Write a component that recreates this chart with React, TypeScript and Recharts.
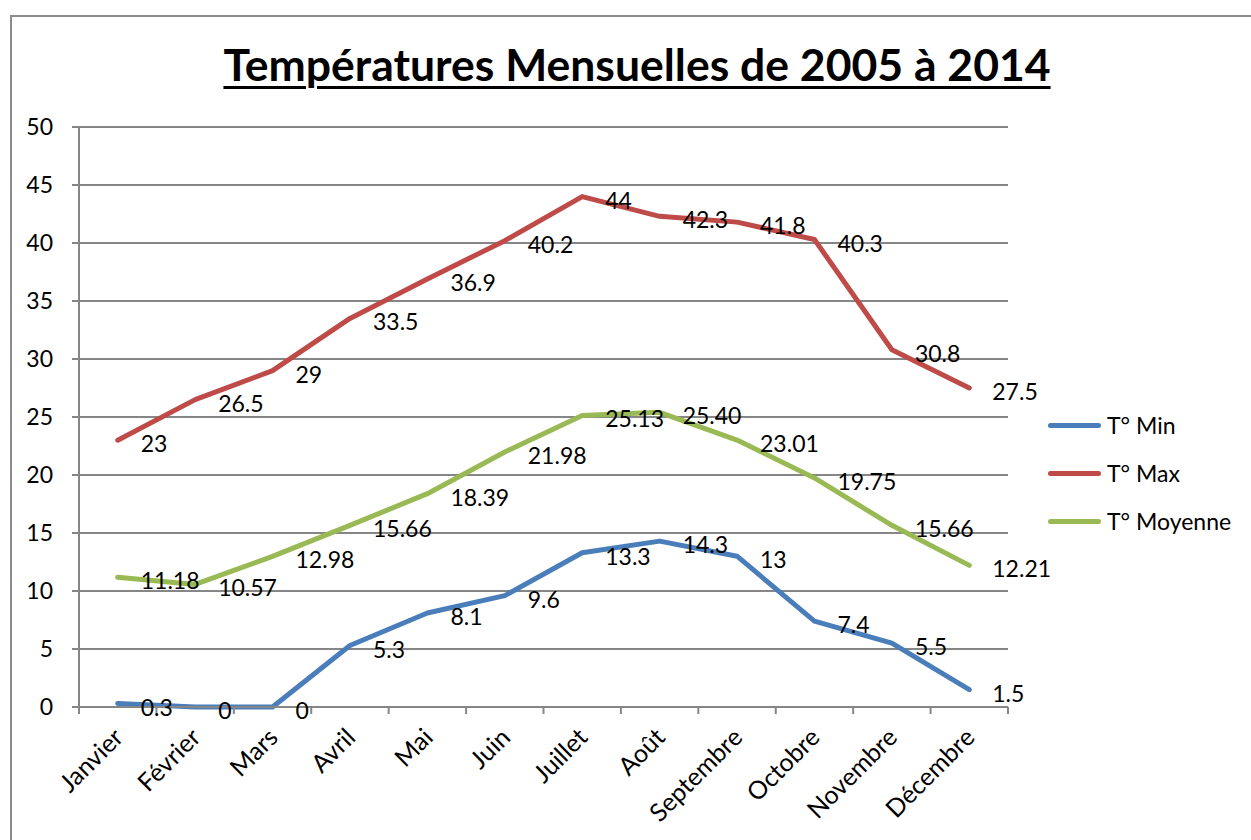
import React from 'react';
import {
  LineChart,
  Line,
  CartesianGrid,
  XAxis,
  YAxis,
  Legend,
  LabelList,
} from 'recharts';

const months = [
  'Janvier', 'Février', 'Mars', 'Avril', 'Mai', 'Juin',
  'Juillet', 'Août', 'Septembre', 'Octobre', 'Novembre', 'Décembre',
];
const tMin = [0.3, 0, 0, 5.3, 8.1, 9.6, 13.3, 14.3, 13, 7.4, 5.5, 1.5];
const tMax = [23, 26.5, 29, 33.5, 36.9, 40.2, 44, 42.3, 41.8, 40.3, 30.8, 27.5];
const tMoy = [11.18, 10.57, 12.98, 15.66, 18.39, 21.98, 25.13, 25.4, 23.01, 19.75, 15.66, 12.21];
const minLabels = ['0.3', '0', '0', '5.3', '8.1', '9.6', '13.3', '14.3', '13', '7.4', '5.5', '1.5'];
const maxLabels = ['23', '26.5', '29', '33.5', '36.9', '40.2', '44', '42.3', '41.8', '40.3', '30.8', '27.5'];
const moyLabels = ['11.18', '10.57', '12.98', '15.66', '18.39', '21.98', '25.13', '25.40', '23.01', '19.75', '15.66', '12.21'];
const yTicks = [0, 5, 10, 15, 20, 25, 30, 35, 40, 45, 50];
const seriesOrder = ['min', 'max', 'moy'];

const data = months.map((m, i) => ({
  month: m,
  min: tMin[i],
  max: tMax[i],
  moy: tMoy[i],
  minL: minLabels[i],
  maxL: maxLabels[i],
  moyL: moyLabels[i],
}));

const FONT = 'Lato, "Open Sans", sans-serif';
const GRID = '#868686';
const C_MIN = '#4A7EBB';
const C_MAX = '#BE4B48';
const C_MOY = '#98B954';

const ValueLabel = (props: any) => {
  const x = props.x ?? props.viewBox?.x;
  const y = props.y ?? props.viewBox?.y;
  if (x == null || y == null) return null;
  return (
    <text
      x={x + 23}
      y={y + 3}
      dominantBaseline="central"
      fontSize={23}
      fontFamily={FONT}
      fill="#000"
    >
      {props.value}
    </text>
  );
};

const MonthTick = (props: any) => {
  const { x, y, payload, index } = props;
  const half = payload?.offset ?? 38.7;
  return (
    <g>
      <line x1={x - half} x2={x - half} y1={y} y2={y + 7} stroke={GRID} strokeWidth={2} />
      {index === months.length - 1 && (
        <line x1={x + half} x2={x + half} y1={y} y2={y + 7} stroke={GRID} strokeWidth={2} />
      )}
      <text
        x={x + 7}
        y={y + 32}
        textAnchor="end"
        transform={`rotate(-45 ${x + 7} ${y + 32})`}
        fontSize={25}
        fontFamily={FONT}
        fill="#000"
      >
        {payload.value}
      </text>
    </g>
  );
};

const LegendBox = (props: any) => {
  const items = [...(props.payload || [])].sort(
    (a: any, b: any) => seriesOrder.indexOf(a.dataKey) - seriesOrder.indexOf(b.dataKey),
  );
  return (
    <div style={{ fontFamily: FONT, fontSize: 23 }}>
      {items.map((e: any) => (
        <div key={e.value} style={{ display: 'flex', alignItems: 'center', height: 48 }}>
          <div
            style={{
              width: 53,
              height: 5,
              borderRadius: 3,
              background: e.color,
              marginRight: 6,
            }}
          />
          <span>{e.value}</span>
        </div>
      ))}
    </div>
  );
};

export default function App() {
  return (
    <div
      style={{
        position: 'absolute',
        left: 0,
        top: 0,
        width: 1251,
        height: 840,
        overflow: 'hidden',
        background: '#fff',
      }}
    >
      <div
        style={{
          position: 'absolute',
          left: 10,
          top: 15,
          width: 1400,
          height: 1000,
          border: '2px solid #8c8c8c',
        }}
      />
      <div
        style={{
          position: 'absolute',
          left: 637,
          top: 37,
          transform: 'translateX(-50%)',
          whiteSpace: 'nowrap',
          fontFamily: FONT,
          fontWeight: 700,
          fontSize: 44.5,
          textDecoration: 'underline',
          textDecorationThickness: 3,
          textUnderlineOffset: 5,
          color: '#000',
        }}
      >
        Températures Mensuelles de 2005 à 2014
      </div>
      <div style={{ position: 'absolute', left: 0, top: 0 }}>
        <LineChart
          width={1251}
          height={840}
          data={data}
          margin={{ top: 127, right: 243, bottom: 0, left: 0 }}
        >
          <CartesianGrid horizontal vertical={false} stroke={GRID} strokeWidth={2} />
          <XAxis
            dataKey="month"
            scale="band"
            height={133}
            interval={0}
            tickLine={false}
            tickSize={0}
            tickMargin={0}
            axisLine={{ stroke: GRID, strokeWidth: 2 }}
            tick={<MonthTick />}
          />
          <YAxis
            width={79}
            domain={[0, 50]}
            ticks={yTicks}
            interval={0}
            tickSize={7}
            tickMargin={19}
            tickLine={{ stroke: GRID, strokeWidth: 2 }}
            axisLine={{ stroke: GRID, strokeWidth: 2 }}
            tick={{ fontSize: 23, fontFamily: FONT, fill: '#000' }}
          />
          <Legend
            layout="vertical"
            align="center"
            verticalAlign="middle"
            content={<LegendBox />}
            wrapperStyle={{ left: 1048, top: 401, width: 200 }}
          />
          <Line
            name="T° Min"
            dataKey="min"
            stroke={C_MIN}
            strokeWidth={5}
            strokeLinejoin="round"
            strokeLinecap="round"
            dot={false}
            activeDot={false}
            isAnimationActive={false}
          >
            <LabelList dataKey="minL" content={<ValueLabel />} />
          </Line>
          <Line
            name="T° Max"
            dataKey="max"
            stroke={C_MAX}
            strokeWidth={5}
            strokeLinejoin="round"
            strokeLinecap="round"
            dot={false}
            activeDot={false}
            isAnimationActive={false}
          >
            <LabelList dataKey="maxL" content={<ValueLabel />} />
          </Line>
          <Line
            name="T° Moyenne"
            dataKey="moy"
            stroke={C_MOY}
            strokeWidth={5}
            strokeLinejoin="round"
            strokeLinecap="round"
            dot={false}
            activeDot={false}
            isAnimationActive={false}
          >
            <LabelList dataKey="moyL" content={<ValueLabel />} />
          </Line>
        </LineChart>
      </div>
    </div>
  );
}
